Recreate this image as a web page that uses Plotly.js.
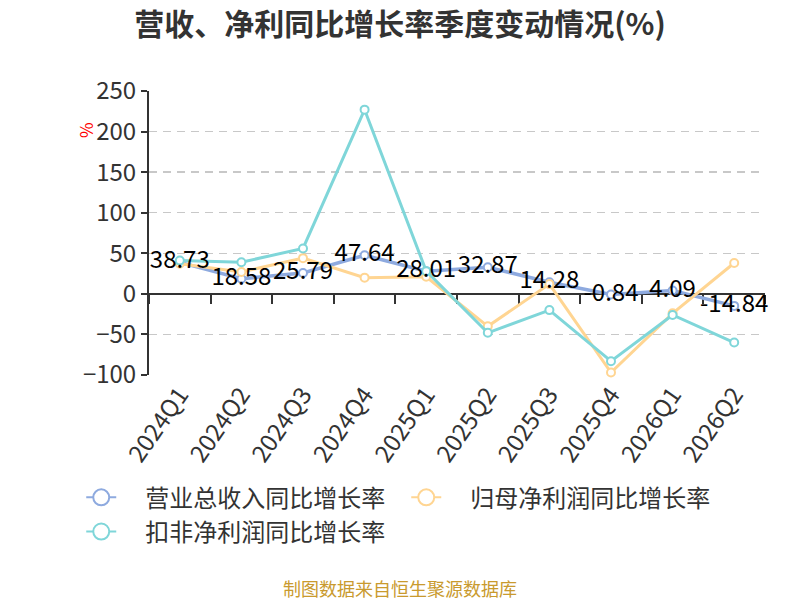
<!DOCTYPE html>
<html>
<head>
<meta charset="utf-8">
<script src="https://cdn.plot.ly/plotly-3.0.1.min.js"></script>
<style>
  html, body { margin: 0; padding: 0; background: #fff; }
  #plot { width: 800px; height: 600px; }
</style>
</head>
<body>
<div id="plot"></div>
<script>
// 季度
const quarters = ["2024Q1", "2024Q2", "2024Q3", "2024Q4", "2025Q1", "2025Q2", "2025Q3", "2025Q4", "2026Q1", "2026Q2"];
// 营业总收入同比增长率
const revenue = [38.73, 18.58, 25.79, 47.64, 28.01, 32.87, 14.28, -0.84, 4.09, -14.84];
// 归母净利润同比增长率
const netProfit = [37, 27, 44, 20, 21, -40, 12, -97, -24, 38];
// 扣非净利润同比增长率
const deductProfit = [41, 39, 56, 227, 28, -48, -20, -83, -26, -60];

const names = ["营业总收入同比增长率", "归母净利润同比增长率", "扣非净利润同比增长率"];
const colors = ["#8eaadf", "#ffd592", "#7fd6d9"];

const font = "'Noto Sans CJK SC', 'Noto Sans', sans-serif";

let line = (y, i) => ({
    x: quarters,
    y: y,
    name: names[i],
    type: "scatter",
    mode: "lines+markers",
    line: {color: colors[i], width: i === 0 ? 3.5 : 3},
    marker: {symbol: "circle", size: 8, color: "#fff", line: {color: colors[i], width: 2}},
    cliponaxis: false,
    showlegend: false,
    hoverinfo: "skip"
});

// 图例用的系列：全是空值，不画出来，只为图例里的大圆圈
let legendItem = (i) => ({
    x: quarters,
    y: quarters.map(() => null),
    name: "\u3000" + names[i],
    type: "scatter",
    mode: "lines+markers",
    line: {color: colors[i], width: 2},
    marker: {symbol: "circle", size: 16, color: "#fff", line: {color: colors[i], width: 2}},
    hoverinfo: "skip"
});

const traces = [
    line(revenue, 0),
    line(netProfit, 1),
    line(deductProfit, 2),
    legendItem(0),
    legendItem(1),
    legendItem(2),
    // 数值标签放最上层
    {
        x: quarters,
        y: revenue,
        type: "scatter",
        mode: "text",
        text: revenue.map(v => v.toFixed(2)),
        textposition: "middle center",
        textfont: {family: font, size: 24, color: "#000"},
        cliponaxis: false,
        showlegend: false,
        hoverinfo: "skip"
    },
    // 零轴上的刻度
    {
        x: quarters,
        y: revenue,
        xaxis: "x2",
        type: "scatter",
        mode: "none",
        showlegend: false,
        hoverinfo: "skip"
    }
];

const layout = {
    width: 800,
    height: 600,
    margin: {l: 149, r: 35, t: 91, b: 225},
    paper_bgcolor: "#fff",
    plot_bgcolor: "#fff",
    font: {family: font, color: "#333"},
    title: {
        text: "<b>营收、净利同比增长率季度变动情况(%)</b>",
        font: {family: font, size: 30, color: "#333"},
        x: 0.5, xanchor: "center",
        y: 0.96, yanchor: "middle"
    },
    xaxis: {
        type: "category",
        categoryarray: quarters,
        range: [-0.5, 9.5],
        showline: false,
        showgrid: false,
        zeroline: false,
        ticks: "",
        tickangle: -55,
        tickfont: {family: font, size: 24, color: "#333"}
    },
    xaxis2: {
        type: "category",
        categoryarray: quarters,
        range: [-0.5, 9.5],
        overlaying: "x",
        anchor: "free",
        position: 100 / 350,
        side: "bottom",
        layer: "below traces",
        showline: true,
        linecolor: "#333",
        linewidth: 2,
        showgrid: false,
        zeroline: false,
        ticks: "outside",
        tickson: "boundaries",
        ticklen: 9,
        tickwidth: 2,
        tickcolor: "#333",
        showticklabels: false
    },
    yaxis: {
        range: [-100, 250],
        dtick: 50,
        layer: "below traces",
        showline: true,
        linecolor: "#333",
        linewidth: 2,
        ticks: "outside",
        ticklen: 6,
        tickwidth: 2,
        tickcolor: "#333",
        showgrid: true,
        gridcolor: "#c8c8c8",
        griddash: "8px,6px",
        gridwidth: 1.5,
        zeroline: false,
        tickfont: {family: font, size: 24, color: "#333"}
    },
    legend: {
        orientation: "h",
        x: -0.11, xanchor: "left",
        y: -0.353, yanchor: "top",
        font: {family: font, size: 24, color: "#333"},
        entrywidth: 280,
        tracegroupgap: 0
    },
    annotations: [
        {
            text: "%",
            xref: "paper", yref: "paper",
            x: -0.102, y: 0.863,
            xanchor: "center", yanchor: "middle",
            showarrow: false,
            textangle: -90,
            font: {family: font, size: 17, color: "#f00"}
        },
        {
            text: "制图数据来自恒生聚源数据库",
            xref: "paper", yref: "paper",
            x: (400 - 149) / 616, y: -0.75,
            xanchor: "center", yanchor: "middle",
            showarrow: false,
            font: {family: font, size: 18, color: "#c99a2e"}
        }
    ]
};

Plotly.newPlot("plot", traces, layout, {displayModeBar: false, staticPlot: true});
</script>
</body>
</html>
